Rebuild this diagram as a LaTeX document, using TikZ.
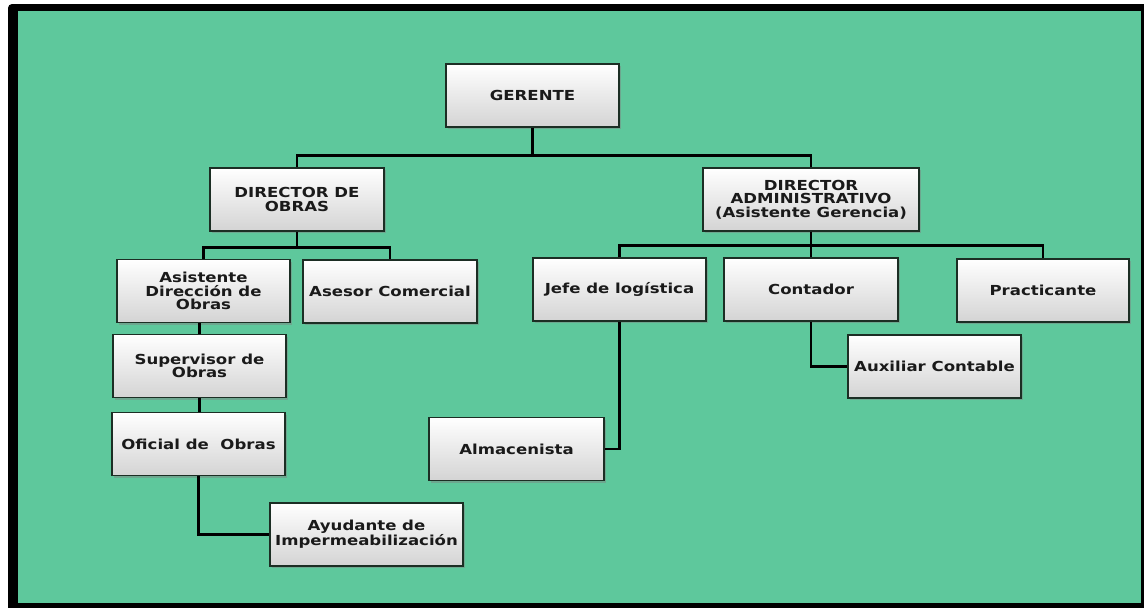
\documentclass[tikz,border=0pt]{standalone}
\usepackage{fontspec}
\usepackage{tikz}
\usetikzlibrary{positioning,shadows}
\newfontfamily\cajafont[FakeStretch=1.2]{DejaVu Sans}
\definecolor{fondoverde}{RGB}{94,200,156}
\definecolor{bordecaja}{RGB}{28,46,36}
\definecolor{textocaja}{RGB}{26,26,26}

\begin{document}
\begin{tikzpicture}[x=1pt, y=-1pt,
  caja/.style={rectangle, draw=bordecaja, line width=1.5pt, top color=white, bottom color=black!17, minimum width=173pt, minimum height=63pt, inner sep=2pt, align=center, text=textocaja, font=\cajafont\bfseries\fontsize{13.8}{13.6}\selectfont, drop shadow={shadow xshift=2pt, shadow yshift=-2pt, opacity=0.45}},
  linea/.style={draw=black, line width=2.8pt}]

\useasboundingbox (0,0) rectangle (1144,608);
\fill[white] (0,0) rectangle (1144,608);
\fill[black, rounded corners=4pt] (8,4) rectangle (1150,614);
\fill[fondoverde] (18,11) rectangle (1141,603);

\node[caja] (ger) at (532.5,95.5) {GERENTE};

\node[caja, minimum width=174pt] (dobras) at (297,199.5) {DIRECTOR DE\\OBRAS};

\node[caja, minimum width=216pt] (dadm) at (811,199.5) {DIRECTOR\\ADMINISTRATIVO\\(Asistente Gerencia)};

\node[caja] (asist) at (203.5,291) {Asistente\\Dirección de\\Obras};

\node[caja, minimum width=174pt] (asesor) at (390,291.5) {Asesor Comercial};

\node[caja] (superv) at (199.5,366) {Supervisor de\\Obras};

\node[caja] (oficial) at (198.5,444) {Oficial de~~Obras};

\node[caja, minimum width=193pt] (ayud) at (366.5,534.5) {Ayudante de\\Impermeabilización};

\node[caja] (jefe) at (619.5,289.5) {Jefe de logística};

\node[caja, minimum width=174pt] (conta) at (811,289.5) {Contador};

\node[caja, minimum width=172pt] (pract) at (1043,290.5) {Practicante};

\node[caja] (aux) at (934.5,366.5) {Auxiliar Contable};

\node[caja, minimum width=175pt] (almac) at (516.5,449) {Almacenista};

\draw[linea] (ger.south) -- ++(0,28) -| (dobras.north);
\draw[linea] (ger.south) -- ++(0,28) -| (dadm.north);

\draw[linea] (dobras.south) -- ++(0,16) -| (asist.north);
\draw[linea] (dobras.south) -- ++(0,16) -| (asesor.north);

\draw[linea] (dadm.south) -- ++(0,14) -| (jefe.north);
\draw[linea] (dadm.south) -- ++(0,14) -| (conta.north);
\draw[linea] (dadm.south) -- ++(0,14) -| (pract.north);

\draw[linea] (superv.north) -- (superv.north |- asist.south);
\draw[linea] (superv.south) -- (superv.south |- oficial.north);
\draw[linea] (oficial.south) |- (ayud.west);

\draw[linea] (jefe.south) |- (almac.east);
\draw[linea] (conta.south) |- (aux.west);

\end{tikzpicture}
\end{document}
